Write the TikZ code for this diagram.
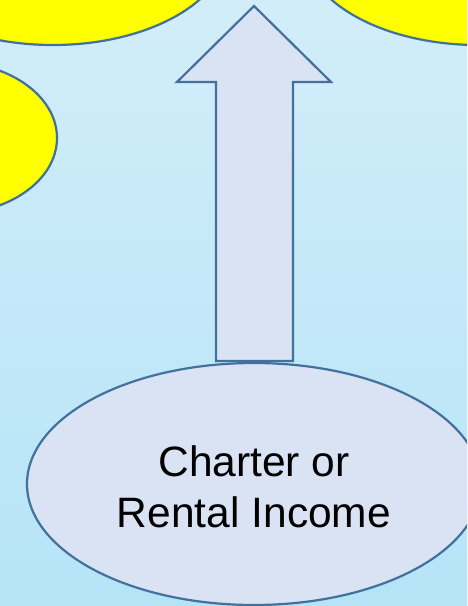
\documentclass[tikz,border=0pt]{standalone}
\usepackage{fontspec}
\setmainfont{Liberation Sans}
\usetikzlibrary{shapes.geometric, positioning}
\definecolor{myBlue}{RGB}{65,113,156}
\definecolor{myLav}{RGB}{218,227,243}
\definecolor{myYellow}{RGB}{255,255,0}
\definecolor{skyTop}{RGB}{210,237,249}
\definecolor{skyBot}{RGB}{181,228,247}

\begin{document}
\begin{tikzpicture}[x=1pt, y=-1pt, line width=2.2pt,
	sun/.style={draw=myBlue, fill=myYellow},
	blob/.style={ellipse, draw=myBlue, fill=myLav, inner sep=0pt, align=center,
		font=\fontsize{42.5}{51}\selectfont}]
		% frame and sky
		\useasboundingbox (0,0) rectangle (467,606);
		\clip (0,0) rectangle (467,606);
		\shade[top color=skyTop, bottom color=skyBot] (0,0) rectangle (467,606);
		% yellow ellipses, cut by the frame
		\draw[sun] (53,-55) ellipse [x radius=175pt, y radius=100pt];
		\draw[sun] (478,-55) ellipse [x radius=175pt, y radius=100pt];
		\draw[sun] (-50,138) ellipse [x radius=107pt, y radius=76pt];
		% block arrow up
		\draw[myBlue, fill=myLav, line join=miter]
			(216,361) -- (216,82) -- (177,82) -- (254,6) -- (331,82) -- (293,82) -- (293,361) -- cycle;
		% income ellipse
		\node[blob, minimum width=454pt, minimum height=242pt] (income) at (254,484)
			{\rule{0pt}{37pt}Charter or\\Rental Income};
	\end{tikzpicture}
\end{document}
